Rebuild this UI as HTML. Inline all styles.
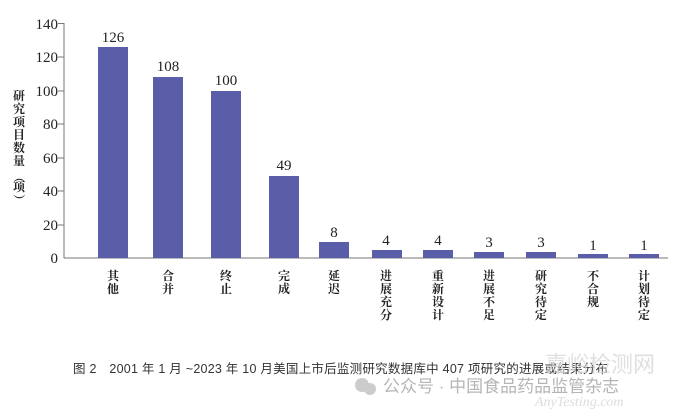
<!DOCTYPE html>
<html><head><meta charset="utf-8"><style>
body{margin:0;background:#fff}
svg text{font-family:"Liberation Serif","Noto Serif CJK SC",serif;fill:#222}
svg text.c{font-family:"Liberation Sans","Noto Sans CJK SC",sans-serif}
</style></head><body>
<svg width="680" height="413" viewBox="0 0 680 413" xmlns="http://www.w3.org/2000/svg">
<g stroke="#777" stroke-width="1">
<line x1="64" y1="23" x2="64" y2="258"/>
<line x1="64" y1="258" x2="668" y2="258"/>
<line x1="58" y1="23.5" x2="64" y2="23.5"/>
<line x1="58" y1="57" x2="64" y2="57"/>
<line x1="58" y1="91" x2="64" y2="91"/>
<line x1="58" y1="124" x2="64" y2="124"/>
<line x1="58" y1="158" x2="64" y2="158"/>
<line x1="58" y1="191" x2="64" y2="191"/>
<line x1="58" y1="225" x2="64" y2="225"/>
</g>
<g font-size="15" text-anchor="end">
<text x="58" y="29">140</text><text x="58" y="62">120</text><text x="58" y="96">100</text>
<text x="58" y="129">80</text><text x="58" y="163">60</text><text x="58" y="196">40</text>
<text x="58" y="230">20</text><text x="58" y="263">0</text>
</g>
<g font-size="12" font-weight="bold" text-anchor="middle">
<text x="19" y="100">研</text><text x="19" y="113">究</text><text x="19" y="126">项</text>
<text x="19" y="139">目</text><text x="19" y="152">数</text><text x="19" y="165">量</text>
<text x="19" y="181" transform="rotate(90 19 177)">（</text><text x="19" y="191">项</text>
<text x="19" y="204" transform="rotate(90 19 200)">）</text>
</g>
<g fill="#5a5ea8">
<rect x="98" y="47" width="30" height="211"/>
<rect x="153" y="77" width="30" height="181"/>
<rect x="211" y="91" width="30" height="167"/>
<rect x="269" y="176" width="30" height="82"/>
<rect x="319" y="242" width="30" height="16"/>
<rect x="372" y="250" width="30" height="8"/>
<rect x="423" y="250" width="30" height="8"/>
<rect x="474" y="252" width="30" height="6"/>
<rect x="526" y="252" width="30" height="6"/>
<rect x="578" y="254" width="30" height="4"/>
<rect x="629" y="254" width="30" height="4"/>
</g>
<g font-size="15" text-anchor="middle">
<text x="113" y="42">126</text><text x="168" y="71">108</text><text x="226" y="85">100</text>
<text x="284" y="170">49</text><text x="334" y="237">8</text><text x="386" y="245">4</text>
<text x="438" y="245">4</text><text x="489" y="247">3</text><text x="541" y="247">3</text>
<text x="593" y="250">1</text><text x="644" y="250">1</text>
</g>
<g font-size="12" font-weight="bold" text-anchor="middle">
<text x="113" y="280">其</text><text x="113" y="293">他</text>
<text x="168" y="280">合</text><text x="168" y="293">并</text>
<text x="226" y="280">终</text><text x="226" y="293">止</text>
<text x="284" y="280">完</text><text x="284" y="293">成</text>
<text x="334" y="280">延</text><text x="334" y="293">迟</text>
<text x="386" y="280">进</text><text x="386" y="293">展</text><text x="386" y="306">充</text><text x="386" y="319">分</text>
<text x="438" y="280">重</text><text x="438" y="293">新</text><text x="438" y="306">设</text><text x="438" y="319">计</text>
<text x="489" y="280">进</text><text x="489" y="293">展</text><text x="489" y="306">不</text><text x="489" y="319">足</text>
<text x="541" y="280">研</text><text x="541" y="293">究</text><text x="541" y="306">待</text><text x="541" y="319">定</text>
<text x="593" y="280">不</text><text x="593" y="293">合</text><text x="593" y="306">规</text>
<text x="644" y="280">计</text><text x="644" y="293">划</text><text x="644" y="306">待</text><text x="644" y="319">定</text>
</g>
<text class="c" x="73" y="373" font-size="12.5" style="fill:#333" textLength="535">图 2　2001 年 1 月 ~2023 年 10 月美国上市后监测研究数据库中 407 项研究的进展或结果分布</text>
<text class="c" x="545" y="372" font-size="22" style="fill:#d8d8d8;opacity:0.8">嘉峪检测网</text>
<circle cx="362" cy="385" r="7" fill="#ccc"/><circle cx="370" cy="389" r="6" fill="#ccc"/>
<text class="c" x="383" y="392" font-size="17" style="fill:#b5b5b5">公众号 · 中国食品药品监管杂志</text>
<text x="535" y="406" font-size="14" font-style="italic" style="fill:#ddd">AnyTesting.com</text>
</svg>
</body></html>
